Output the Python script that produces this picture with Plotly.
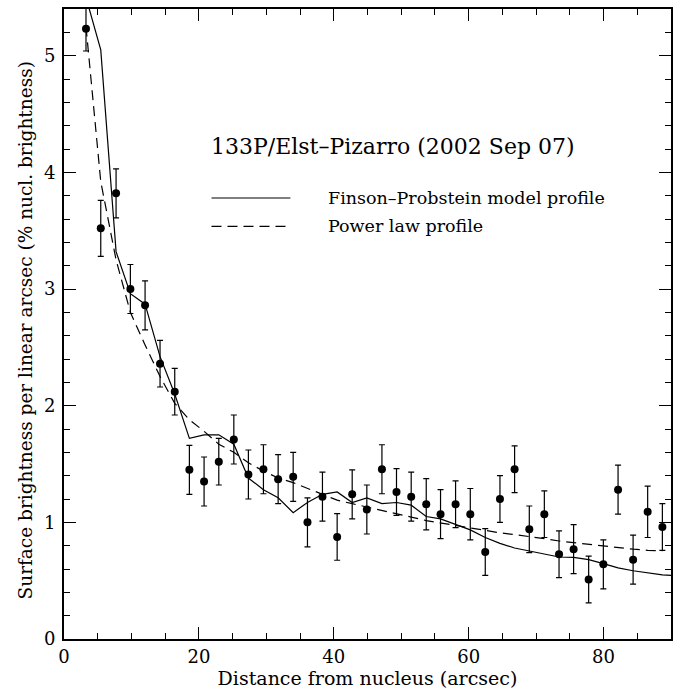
import plotly.graph_objects as go

# Observed profile (distance in arcsec, surface brightness in % nucl. brightness)
dist = [3.26, 5.45, 7.72, 9.84, 12.02, 14.24, 16.42, 18.59, 20.77, 22.95,
        25.18, 27.34, 29.57, 31.75, 33.98, 36.10, 38.32, 40.50, 42.73, 44.90,
        47.14, 49.30, 51.48, 53.71, 55.83, 58.06, 60.24, 62.46, 64.64, 66.81,
        68.99, 71.22, 73.40, 75.56, 77.79, 79.97, 82.15, 84.38, 86.54, 88.72]
flux = [5.23, 3.52, 3.82, 3.00, 2.86, 2.36, 2.12, 1.45, 1.35, 1.52,
        1.71, 1.41, 1.455, 1.37, 1.39, 1.00, 1.22, 0.875, 1.24, 1.11,
        1.455, 1.26, 1.22, 1.155, 1.07, 1.155, 1.07, 0.746, 1.20, 1.455,
        0.94, 1.07, 0.726, 0.77, 0.51, 0.64, 1.28, 0.68, 1.09, 0.96]
flux_err = [0.19, 0.24, 0.21, 0.21, 0.21, 0.20, 0.20, 0.21, 0.21, 0.20,
            0.21, 0.21, 0.21, 0.21, 0.21, 0.21, 0.21, 0.20, 0.21, 0.21,
            0.21, 0.20, 0.21, 0.22, 0.21, 0.20, 0.22, 0.20, 0.20, 0.20,
            0.20, 0.20, 0.20, 0.21, 0.20, 0.21, 0.21, 0.21, 0.22, 0.20]

# Finson-Probstein model profile
model_x = dist + [90.0]
model_y = [5.50, 5.05, 3.32, 2.96, 2.87, 2.42, 2.10, 1.72, 1.75, 1.75,
           1.67, 1.38, 1.28, 1.21, 1.083, 1.17, 1.24, 1.26, 1.17, 1.21,
           1.16, 1.17, 1.147, 1.05, 1.03, 0.98, 0.935, 0.87, 0.82, 0.78,
           0.755, 0.726, 0.703, 0.70, 0.68, 0.646, 0.61, 0.585, 0.566, 0.55,
           0.545]

# Power law profile
power_x = dist
power_y = [5.25, 3.92, 3.25, 2.80, 2.52, 2.25, 2.02, 1.88, 1.78, 1.67,
           1.60, 1.51, 1.44, 1.38, 1.34, 1.29, 1.24, 1.19, 1.16, 1.13,
           1.10, 1.07, 1.045, 1.015, 0.995, 0.97, 0.95, 0.93, 0.91, 0.895,
           0.88, 0.86, 0.84, 0.825, 0.81, 0.795, 0.78, 0.77, 0.76, 0.755]

title_text = "133P/Elst\u2013Pizarro (2002 Sep 07)"
legend_names = ["Finson\u2013Probstein model profile", "Power law profile"]

FONT = "DejaVu Serif"

fig = go.Figure()
fig.add_trace(go.Scatter(x=model_x, y=model_y, mode="lines",
                         line=dict(color="black", width=1.2),
                         showlegend=False))
fig.add_trace(go.Scatter(x=power_x, y=power_y, mode="lines",
                         line=dict(color="black", width=1.2, dash="10px,6px"),
                         showlegend=False))
fig.add_trace(go.Scatter(x=dist, y=flux, mode="markers",
                         marker=dict(color="black", size=8),
                         error_y=dict(type="data", array=flux_err, visible=True,
                                      color="black", thickness=1.2, width=3),
                         showlegend=False))

# title and legend (drawn as text + sample lines)
fig.add_annotation(x=0.542, y=0.7825, xref="paper", yref="paper",
                   text=title_text, showarrow=False,
                   xanchor="center", yanchor="middle",
                   font=dict(family=FONT, size=22, color="black"))
leg_y = [0.700, 0.655]
for i, (name, dash) in enumerate(zip(legend_names, ["solid", "10px,6px"])):
    fig.add_shape(type="line", xref="paper", yref="paper",
                  x0=0.243, x1=0.373, y0=leg_y[i], y1=leg_y[i],
                  line=dict(color="black", width=1.2, dash=dash))
    fig.add_annotation(x=0.431, y=leg_y[i], xref="paper", yref="paper",
                       text=name, showarrow=False,
                       xanchor="left", yanchor="middle",
                       font=dict(family=FONT, size=17.5, color="black"))

# y-axis title placed as rotated text
fig.add_annotation(x=-0.064, y=0.49, xref="paper", yref="paper",
                   text="Surface brightness per linear arcsec (% nucl. brightness)",
                   showarrow=False, textangle=-90,
                   xanchor="center", yanchor="middle",
                   font=dict(family=FONT, size=18.5, color="black"))

axis_common = dict(showline=True, linecolor="black", linewidth=2, mirror="ticks",
                   ticks="inside", tickcolor="black", tickwidth=1.2,
                   showgrid=False, zeroline=False, automargin=False,
                   tickfont=dict(family=FONT, size=18, color="black"))
fig.update_xaxes(range=[0, 90], dtick=20, tick0=0, ticklen=12,
                 minor=dict(dtick=5, ticks="inside", ticklen=6,
                            tickcolor="black", tickwidth=1.2),
                 title=dict(text="Distance from nucleus (arcsec)",
                            font=dict(family=FONT, size=19, color="black"),
                            standoff=4),
                 **axis_common)
fig.update_yaxes(range=[0, 5.4], dtick=1, tick0=0, ticklen=12,
                 ticklabelstandoff=3,
                 minor=dict(dtick=0.2, ticks="inside", ticklen=6,
                            tickcolor="black", tickwidth=1.2),
                 **axis_common)

fig.update_layout(width=681, height=692,
                  margin=dict(l=64, r=10, t=9, b=53),
                  paper_bgcolor="white", plot_bgcolor="white",
                  showlegend=False)

fig.write_html("out.html")
